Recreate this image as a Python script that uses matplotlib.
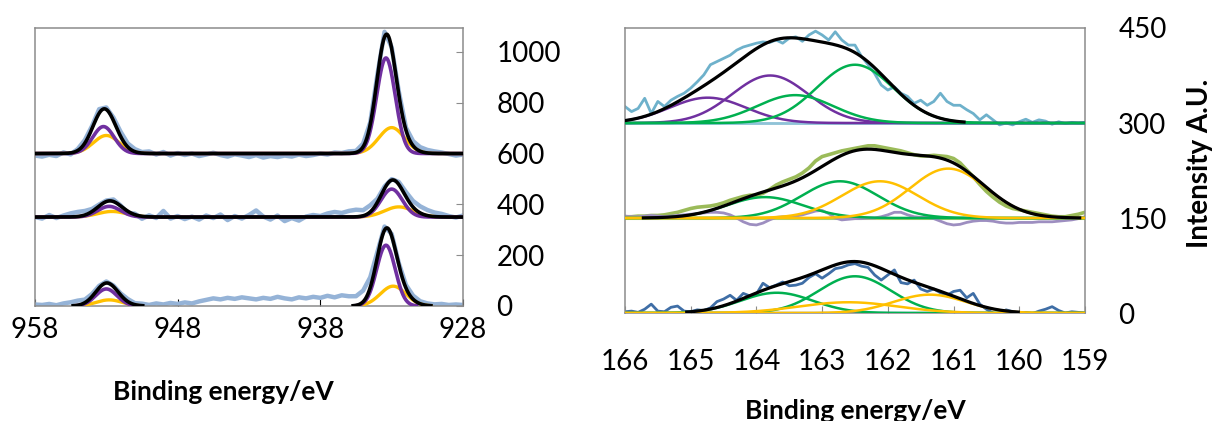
import matplotlib
matplotlib.use("Agg")
import matplotlib.pyplot as plt
import numpy as np

plt.rcParams['font.family'] = ['Lato', 'DejaVu Sans']

# ---------------- Cu 2p panel (left) ----------------
cu_offsets = [600, 350, 0]
# fit components: centre (eV), height, width (sigma, eV)
cu_purple_centers = [[953.2, 933.4], [952.8, 933.0], [953.0, 933.4]]
cu_purple_heights = [[106, 376], [42, 110], [67, 239]]
cu_purple_widths = [[0.75, 0.65], [0.8, 0.75], [0.75, 0.65]]
cu_yellow_centers = [[953.0, 933.0], [952.6, 932.5], [952.8, 932.9]]
cu_yellow_heights = [[71, 102], [22, 40], [24, 78]]
cu_yellow_widths = [[0.9, 0.9], [1.0, 1.0], [0.9, 0.9]]

# measured data minus fit, read every 0.5 eV from 958 down to 928
cu_data_energy = np.arange(958.0, 927.9, -0.5)
cu_residuals = [
    [-8, -12, -5, -10, 4, -6, 6, 12, 10, 16, 8, 12, 18, 14, 10, 4, 8, -4, 6, -8,
     2, -6, 0, -10, -4, 3, -6, -12, -3, -8, -14, -6, -16, -10, -14, -8, -12, -4, -10, -6,
     0, -4, 4, 2, 8, 6, 12, 8, 10, 20, 5, 12, 10, 18, 16, 12, 8, 4, -2, -8, -4],
    [0, -6, 8, -4, 6, 14, 18, 16, 10, 6, 4, 8, 2, -8, 4, -10, 6, -4, 24, -6,
     4, -8, 2, -10, 6, -4, 10, -12, 4, -6, 8, 26, 2, -10, 6, -16, -4, -14, 2, 8,
     4, 14, 20, 16, 24, 28, 22, 26, 14, 8, 4, 10, 18, 24, 26, 22, 16, 12, 4, -2, 6],
    [6, 4, 8, 3, 10, 14, 18, 12, 10, 8, 6, 4, 6, 10, 6, 8, 4, 10, 6, 12,
     8, 14, 10, 18, 24, 30, 26, 32, 28, 34, 30, 26, 32, 28, 36, 30, 26, 34, 30, 36,
     32, 40, 34, 42, 38, 36, 44, 40, 20, 14, 8, 6, 12, 14, 10, 8, 6, 8, 4, 6, 4],
]
cu_xticks = [958, 948, 938, 928]
cu_yticks = [0, 200, 400, 600, 800, 1000]

# ---------------- S 2p panel (right) ----------------
s_offsets = [300, 150, 0]
s_energy = np.round(np.arange(166.0, 158.95, -0.1), 1)
s_top_data = [26, 18, 23, 39, 15, 34, 26, 36, 42, 47,
              55, 65, 76, 92, 97, 102, 107, 115, 120, 123,
              126, 128, 127, 131, 126, 134, 136, 129, 139, 145,
              139, 131, 144, 131, 123, 123, 105, 92, 78, 60,
              52, 57, 47, 42, 31, 36, 28, 34, 47, 34,
              28, 28, 21, 15, 5, 13, 5, -3, 0, -3,
              2, 6, 1, 5, 3, -2, 2, -1, 1, 0, 1]
s_mid_data = [2, 2, 3, 3, 4, 4, 5, 7, 9, 12,
              15, 17, 18, 19, 21, 24, 28, 31, 34, 36,
              36, 39, 45, 52, 57, 61, 65, 71, 79, 90,
              97, 100, 103, 106, 108, 110, 112, 114, 114, 112,
              110, 108, 106, 103, 100, 98, 98, 99, 98, 97,
              94, 87, 76, 65, 53, 42, 33, 25, 19, 15,
              13, 11, 9, 7, 5, 3, 2, 2, 4, 6, 9]
s_mid_resid = [3, 2, 2, 3, 4, 3, 2, 3, 4, 5,
               6, 7, 8, 9, 9, 8, 5, 0, -6, -10,
               -11, -8, -3, 1, 2, 2, 3, 5, 8, 11,
               12, 7, 0, -3, -2, -1, -1, 0, 0, 2,
               5, 9, 9, 5, 2, 1, 1, -1, -5, -9,
               -11, -10, -7, -5, -4, -4, -5, -7, -8, -8,
               -7, -7, -7, -6, -6, -6, -5, -4, -3, -1, 2]
s_bot_data = [2, 3, 1, 6, 14, 3, 2, 9, 11, 3,
              2, 5, 4, 8, 18, 22, 28, 20, 31, 27,
              30, 47, 40, 44, 49, 43, 44, 47, 56, 62,
              55, 62, 70, 72, 76, 78, 74, 72, 60, 52,
              60, 68, 48, 46, 52, 38, 34, 38, 32, 28,
              34, 36, 24, 31, 14, 6, 0, -3, 5, 2,
              0, 1, -1, 3, 6, 10, 4, 0, 2, 1, 0]

s_top_purple = [(164.74, 40, 0.58), (163.79, 75, 0.58)]
s_top_green = [(163.41, 44, 0.58), (162.50, 92, 0.58)]
s_mid_green = [(163.87, 33, 0.58), (162.73, 58, 0.58)]
s_mid_yellow = [(162.12, 58, 0.58), (161.08, 78, 0.58)]
s_bot_green = [(163.69, 32, 0.55), (162.50, 58, 0.55)]
s_bot_yellow = [(162.60, 17, 0.75), (161.36, 29, 0.55)]
s_xticks = [166, 165, 164, 163, 162, 161, 160, 159]
s_yticks = [0, 150, 300, 450]

PURPLE = '#7030A0'
YELLOW = '#FFC000'
GREEN = '#00B050'
FRAME = '#8C8C8C'


def gauss(x, c, h, w):
    return h * np.exp(-0.5 * ((x - c) / w) ** 2)


def peaks(x, params):
    y = np.zeros_like(x)
    for c, h, w in params:
        y = y + gauss(x, c, h, w)
    return y


def fit_only(y, cut=1.5):
    # the envelope is only drawn where the fit is above the baseline
    return np.where(y > cut, y, np.nan)


fig = plt.figure(figsize=(12.14, 4.21), dpi=100)

# ---- left panel ----
ax1 = fig.add_axes([0.0288, 0.2732, 0.3526, 0.6603])
xf = np.linspace(958, 928, 1201)
for i, base in enumerate(cu_offsets):
    pp = list(zip(cu_purple_centers[i], cu_purple_heights[i], cu_purple_widths[i]))
    yp = list(zip(cu_yellow_centers[i], cu_yellow_heights[i], cu_yellow_widths[i]))
    purple = peaks(xf, pp)
    yellow = peaks(xf, yp)
    total = purple + yellow
    data = peaks(cu_data_energy, pp) + peaks(cu_data_energy, yp) + np.array(cu_residuals[i])
    ax1.plot(cu_data_energy, data + base, color='#95B3D7', lw=3.2, zorder=2)
    if base == 0:
        purple = fit_only(purple, 1)
        yellow = fit_only(yellow, 1)
        total = fit_only(total, 1)
    ax1.plot(xf, yellow + base, color=YELLOW, lw=2.4, zorder=3)
    ax1.plot(xf, purple + base, color=PURPLE, lw=2.6, zorder=4)
    ax1.plot(xf, total + base, color='black', lw=2.6, zorder=5)

ax1.set_xlim(958, 928)
ax1.set_ylim(0, 1094)
ax1.set_xticks(cu_xticks)
ax1.set_yticks(cu_yticks)
ax1.yaxis.tick_right()
ax1.tick_params(axis='y', direction='in', length=5, color=FRAME, pad=24, labelsize=20)
ax1.tick_params(axis='x', direction='in', length=5, color='black', pad=8, labelsize=20)
for s in ax1.spines.values():
    s.set_color(FRAME)
    s.set_linewidth(1.1)
ax1.set_xlabel('Binding energy/eV', fontsize=19, fontweight='bold')
ax1.xaxis.set_label_coords(0.44, -0.265)
ax1.xaxis.label.set_va('top')

# ---- right panel ----
ax2 = fig.add_axes([0.5148, 0.2565, 0.3789, 0.6770])
xs = np.linspace(166, 159, 1401)

# separators between the stacked spectra
for base in s_offsets[:2]:
    ax2.axhline(base, color=FRAME, lw=1.0, zorder=1)

# top spectrum
b = s_offsets[0]
ax2.axhline(b, color='#8FC3D8', lw=2.0, zorder=1.5)
ax2.plot(s_energy, np.array(s_top_data) + b, color='#6EB1CB', lw=2.0, zorder=2)
for c, h, w in s_top_purple:
    ax2.plot(xs, gauss(xs, c, h, w) + b, color=PURPLE, lw=1.8, zorder=3)
for c, h, w in s_top_green:
    ax2.plot(xs, gauss(xs, c, h, w) + b, color=GREEN, lw=1.8, zorder=3)
ax2.plot(xs, fit_only(peaks(xs, s_top_purple + s_top_green)) + b, color='black', lw=2.3, zorder=4)

# middle spectrum
b = s_offsets[1]
ax2.axhline(b, color='#A9CF6E', lw=2.2, zorder=1.5)
ax2.plot(s_energy, np.array(s_mid_data) + b, color='#9BBB59', lw=2.6, zorder=2)
ax2.plot(s_energy, np.array(s_mid_resid) + b, color='#9D8EC0', lw=2.0, zorder=2.5)
for c, h, w in s_mid_green:
    ax2.plot(xs, gauss(xs, c, h, w) + b, color=GREEN, lw=1.8, zorder=3)
for c, h, w in s_mid_yellow:
    ax2.plot(xs, gauss(xs, c, h, w) + b, color=YELLOW, lw=1.8, zorder=3)
ax2.plot(xs, fit_only(peaks(xs, s_mid_green + s_mid_yellow), 0.2) + b, color='black', lw=2.3, zorder=4)

# bottom spectrum
b = s_offsets[2]
ax2.axhline(b, color='#3F6EA6', lw=2.4, zorder=1.5)
ax2.plot(s_energy, np.array(s_bot_data) + b, color='#3F6EA6', lw=2.0, zorder=2)
for c, h, w in s_bot_green:
    ax2.plot(xs, gauss(xs, c, h, w) + b, color=GREEN, lw=1.8, zorder=3)
for c, h, w in s_bot_yellow:
    ax2.plot(xs, gauss(xs, c, h, w) + b, color=YELLOW, lw=1.8, zorder=3)
ax2.plot(xs, fit_only(peaks(xs, s_bot_green + s_bot_yellow)) + b, color='black', lw=2.3, zorder=4)

ax2.set_xlim(166, 159)
ax2.set_ylim(0, 450)
ax2.set_xticks(s_xticks)
ax2.set_yticks(s_yticks)
ax2.yaxis.tick_right()
ax2.tick_params(axis='y', length=0, pad=24, labelsize=20)
ax2.tick_params(axis='x', direction='in', length=5, color=FRAME, pad=26, labelsize=20)
for s in ax2.spines.values():
    s.set_color(FRAME)
    s.set_linewidth(1.1)
ax2.set_xlabel('Binding energy/eV', fontsize=19, fontweight='bold')
ax2.xaxis.set_label_coords(0.5, -0.30)
ax2.xaxis.label.set_va('top')

fig.text(1200 / 1214, 0.612, 'Intensity A.U.', rotation=90, fontsize=20,
         fontweight='bold', ha='center', va='center')

fig.savefig('out.png', dpi=100)
